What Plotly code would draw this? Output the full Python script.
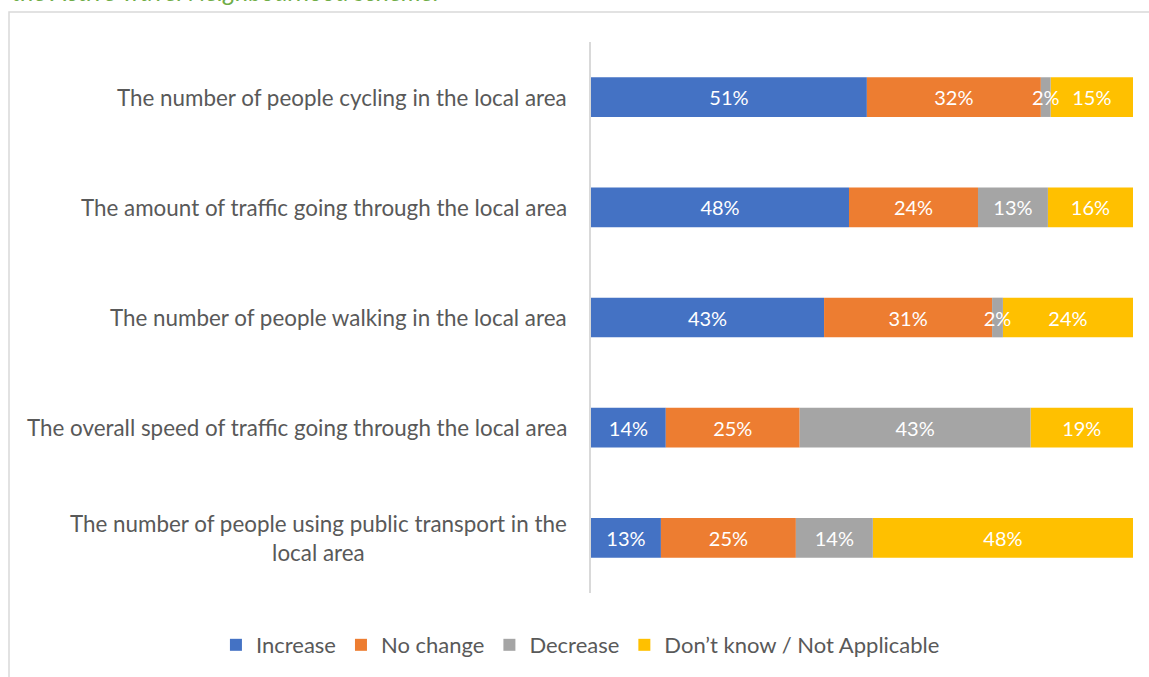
import plotly.graph_objects as go

categories = [
    "The number of people cycling in the local area",
    "The amount of traffic going through the local area",
    "The number of people walking in the local area",
    "The overall speed of traffic going through the local area",
    "The number of people using public transport in the<br>local area",
]
series_names = ["Increase", "No change", "Decrease", "Don\u2019t know / Not Applicable"]
increase = [50.9, 47.6, 43.0, 13.8, 12.9]
no_change = [32.1, 23.8, 31.0, 24.7, 24.9]
decrease = [1.8, 12.9, 2.0, 42.6, 14.2]
dont_know = [15.2, 15.7, 24.0, 18.9, 48.0]
colors = ["#4472C4", "#ED7D31", "#A5A5A5", "#FFC000"]
title_text = "the Active Travel Neighbourhood scheme."

FONT = "Lato, Carlito, 'Open Sans', sans-serif"

series = [increase, no_change, decrease, dont_know]
bases = []
running = [0.0] * len(categories)
for vals in series:
    bases.append(list(running))
    running = [r + v for r, v in zip(running, vals)]

# draw order: the small "Decrease" segments last so their labels sit on top
draw_order = [0, 1, 3, 2]

fig = go.Figure()
for i in draw_order:
    fig.add_trace(go.Bar(
        name=series_names[i], y=categories, x=series[i], base=bases[i], orientation="h",
        marker=dict(color=colors[i], line=dict(width=0)),
        text=series[i], texttemplate="%{x:.0f}%", textposition="inside",
        insidetextanchor="middle", constraintext="none", textangle=0,
        textfont=dict(color="white", size=20, family=FONT),
        legendrank=i + 1,
    ))

# category labels as centered annotations (right edge at the axis)
for c in categories:
    fig.add_annotation(
        x=0, y=c, xref="paper", yref="y", xanchor="right", xshift=-22,
        text=c, showarrow=False, align="center",
        font=dict(size=22.4, color="#595959", family=FONT),
    )

fig.add_annotation(
    x=-1.072, y=1.061, xref="paper", yref="paper", xanchor="left", yanchor="bottom",
    text="<i>" + title_text + "</i>", showarrow=False,
    font=dict(size=25, color="#70AD47", family=FONT),
)

fig.add_shape(type="rect", xref="paper", yref="paper",
              x0=-1.0738, x1=1.2, y0=-0.3, y1=1.0544,
              line=dict(color="#D9D9D9", width=1.5), fillcolor="rgba(0,0,0,0)")

fig.update_layout(
    width=1149, height=677,
    margin=dict(l=591, r=16, t=42, b=84, autoexpand=False),
    barmode="overlay", bargap=0.64,
    plot_bgcolor="white", paper_bgcolor="white",
    uniformtext=dict(minsize=20, mode="show"),
    showlegend=True,
    legend=dict(orientation="h", x=-0.692, xanchor="left",
                y=-0.0944, yanchor="middle",
                font=dict(size=22, color="#595959", family=FONT),
                itemwidth=30, traceorder="normal"),
    font=dict(family=FONT),
)
fig.update_xaxes(range=[0, 100], showticklabels=False, showgrid=False, zeroline=False,
                 showline=False, fixedrange=True)
fig.update_yaxes(autorange="reversed", showticklabels=False, showgrid=False,
                 showline=True, linecolor="#D9D9D9", linewidth=1.5, zeroline=False,
                 ticks="")

fig.write_html("out.html", config={"displayModeBar": False},
               post_script="document.body.style.margin='0';document.body.style.overflow='hidden';")
